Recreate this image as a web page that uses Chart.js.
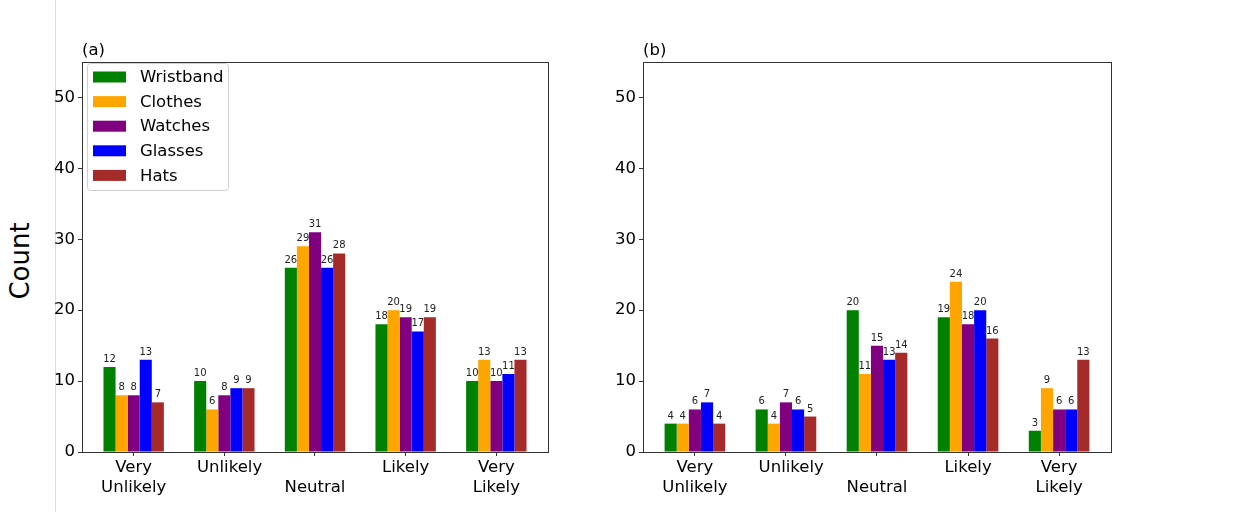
<!DOCTYPE html>
<html>
<head>
<meta charset="utf-8">
<script src="https://cdn.jsdelivr.net/npm/chart.js@4.4.1/dist/chart.umd.min.js"></script>
<style>
  html, body { margin: 0; padding: 0; background: #fff; }
  #page { position: relative; width: 1240px; height: 512px; overflow: hidden; font-family: "DejaVu Sans", sans-serif; }
  #divider { position: absolute; left: 55px; top: 0; width: 1px; height: 512px; background: #dcdcdc; }
  #ylabel { position: absolute; left: 20px; top: 261px; transform: translate(-50%, -50%) rotate(-90deg);
            font-size: 26px; color: #000; white-space: nowrap; }
  canvas { position: absolute; top: 0; }
  #panelA { left: 0; }
  #panelB { left: 561px; }
</style>
</head>
<body>
<div id="page">
  <div id="divider"></div>
  <div id="ylabel">Count</div>
  <canvas id="panelA" width="560" height="512"></canvas>
  <canvas id="panelB" width="561" height="512"></canvas>
</div>
<script>
// Response categories (multi-line tick labels)
const categories = [["Very", "Unlikely"], ["  Unlikely"], ["", "Neutral"], ["Likely"], ["Very", "Likely"]];
const seriesNames = ["Wristband", "Clothes", "Watches", "Glasses", "Hats"];
const seriesColors = ["#008000", "#FFA500", "#800080", "#0000FF", "#A52A2A"];
const yTicks = [0, 10, 20, 30, 40, 50];

// Panel (a) counts
const wristbandA = [12, 10, 26, 18, 10];
const clothesA   = [8, 6, 29, 20, 13];
const watchesA   = [8, 8, 31, 19, 10];
const glassesA   = [13, 9, 26, 17, 11];
const hatsA      = [7, 9, 28, 19, 13];

// Panel (b) counts
const wristbandB = [4, 6, 20, 19, 3];
const clothesB   = [4, 4, 11, 24, 9];
const watchesB   = [6, 7, 15, 18, 6];
const glassesB   = [7, 6, 13, 20, 6];
const hatsB      = [4, 5, 14, 16, 13];

const FONT = "DejaVu Sans";

// Frame around the plot area, value labels, panel tag and legend box
const decorations = {
  id: 'decorations',
  afterDatasetsDraw(chart, args, opts) {
    const ctx = chart.ctx;
    const a = chart.chartArea;
    ctx.save();

    // value labels above each bar
    ctx.font = `10px "${FONT}"`;
    ctx.fillStyle = '#222';
    ctx.textAlign = 'center';
    ctx.textBaseline = 'alphabetic';
    chart.data.datasets.forEach((ds, di) => {
      const meta = chart.getDatasetMeta(di);
      meta.data.forEach((bar, i) => {
        ctx.fillText(String(ds.data[i].y), bar.x, bar.y - 5);
      });
    });

    // axes frame
    ctx.strokeStyle = '#333';
    ctx.lineWidth = 1;
    ctx.strokeRect(Math.round(a.left) + 0.5, Math.round(a.top) + 0.5,
                   Math.round(a.right - a.left), Math.round(a.bottom - a.top));

    // panel tag
    ctx.font = `16.5px "${FONT}"`;
    ctx.fillStyle = '#000';
    ctx.textAlign = 'left';
    ctx.textBaseline = 'alphabetic';
    ctx.fillText(opts.tag, a.left, a.top - 7);

    // legend
    if (opts.legend) {
      const bx = a.left + 5, by = a.top + 1, bw = 141, bh = 127;
      ctx.beginPath();
      ctx.roundRect(bx + 0.5, by + 0.5, bw, bh, 3);
      ctx.fillStyle = 'rgba(255,255,255,0.8)';
      ctx.fill();
      ctx.strokeStyle = '#d0d0d0';
      ctx.stroke();
      ctx.font = `16.5px "${FONT}"`;
      ctx.textBaseline = 'middle';
      chart.data.datasets.forEach((ds, i) => {
        const cy = by + 14 + i * 24.6;
        ctx.fillStyle = ds.backgroundColor;
        ctx.fillRect(bx + 6, cy - 5.5, 33, 11);
        ctx.fillStyle = '#000';
        ctx.fillText(ds.label, bx + 53, cy + 1);
      });
    }
    ctx.restore();
  }
};

function makePanel(canvasId, tag, series, showLegend, padRight) {
  const datasets = seriesNames.map((name, i) => ({
    label: name,
    data: series[i].map((v, j) => ({ x: j, y: v })),
    backgroundColor: seriesColors[i],
    borderWidth: 0,
    categoryPercentage: 0.666,
    barPercentage: 1
  }));
  return new Chart(document.getElementById(canvasId), {
    type: 'bar',
    data: { datasets },
    options: {
      responsive: false,
      animation: false,
      layout: { padding: { top: 62, right: padRight, left: 0, bottom: 0 } },
      plugins: {
        legend: { display: false },
        tooltip: { enabled: false },
        decorations: { tag, legend: showLegend }
      },
      scales: {
        x: {
          type: 'linear',
          min: -0.57,
          max: 4.57,
          offset: false,
          afterBuildTicks: s => { s.ticks = categories.map((_, i) => ({ value: i })); },
          afterFit: s => { s.height = 60; },
          ticks: {
            callback: v => categories[v],
            font: { size: 16.5, family: FONT, lineHeight: 1.2 },
            color: '#000',
            padding: 2,
            maxRotation: 0,
            autoSkip: false
          },
          grid: { offset: false, drawOnChartArea: false, drawTicks: true, tickLength: 4, color: '#333' },
          border: { display: false }
        },
        y: {
          min: 0,
          max: 55,
          afterBuildTicks: s => { s.ticks = yTicks.map(v => ({ value: v })); },
          afterFit: s => { s.width = 82; },
          ticks: { font: { size: 16.5, family: FONT }, color: '#000', padding: 3 },
          grid: { drawOnChartArea: false, drawTicks: true, tickLength: 4, color: '#333' },
          border: { display: false }
        }
      }
    },
    plugins: [decorations]
  });
}

makePanel('panelA', '(a)', [wristbandA, clothesA, watchesA, glassesA, hatsA], true, 12);
makePanel('panelB', '(b)', [wristbandB, clothesB, watchesB, glassesB, hatsB], false, 11);
</script>
</body>
</html>
